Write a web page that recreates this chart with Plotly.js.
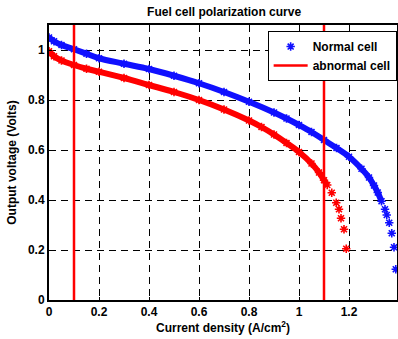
<!DOCTYPE html>
<html>
<head>
<meta charset="utf-8">
<script src="https://cdn.plot.ly/plotly-3.0.1.min.js"></script>
<style>html,body{margin:0;padding:0;background:#fff;}#chart{width:398px;height:339px;}</style>
</head>
<body>
<div id="chart"></div>
<script>
// Normal cell (blue asterisks)
const normalX = [0, 0.02, 0.05, 0.1, 0.15, 0.2, 0.3, 0.4, 0.5, 0.6, 0.7, 0.8, 0.9, 0.95, 1.0, 1.05, 1.1, 1.15, 1.2, 1.25, 1.28, 1.3, 1.315, 1.33, 1.344, 1.351, 1.361, 1.371, 1.38, 1.387];
const normalY = [1.05, 1.035, 1.02, 1.003, 0.985, 0.967, 0.945, 0.924, 0.897, 0.867, 0.832, 0.793, 0.75, 0.726, 0.70, 0.672, 0.64, 0.608, 0.573, 0.525, 0.49, 0.458, 0.43, 0.395, 0.363, 0.34, 0.309, 0.267, 0.211, 0.123];
const normalDenseCount = 24;
// Abnormal cell (red asterisks)
const abnormalX = [0, 0.02, 0.05, 0.1, 0.15, 0.2, 0.3, 0.4, 0.5, 0.6, 0.7, 0.8, 0.85, 0.9, 0.95, 1.0, 1.05, 1.08, 1.1, 1.113, 1.131, 1.149, 1.16, 1.168, 1.18, 1.189];
const abnormalY = [0.995, 0.975, 0.958, 0.94, 0.925, 0.913, 0.888, 0.86, 0.832, 0.80, 0.762, 0.718, 0.692, 0.662, 0.628, 0.592, 0.546, 0.51, 0.479, 0.46, 0.429, 0.389, 0.363, 0.327, 0.283, 0.205];
const abnormalDenseCount = 20;
// Red vertical limit lines
const limitX = [0.1, 1.1];
const xTicks = [0, 0.2, 0.4, 0.6, 0.8, 1, 1.2];
const xTickText = ['0', '0.2', '0.4', '0.6', '0.8', '1', '1.2'];
const yTicks = [0, 0.2, 0.4, 0.6, 0.8, 1];
const yTickText = ['0', '0.2', '0.4', '0.6', '0.8', '1'];

const Y_MAX = 1.1;
const lx = [], ly = [];
limitX.forEach((v, i) => { if (i) { lx.push(null); ly.push(null); } lx.push(v, v); ly.push(0, Y_MAX); });

const BLUE = '#1010ff', RED = '#ff0000';
const traces = [
  {x: normalX.slice(0, normalDenseCount), y: normalY.slice(0, normalDenseCount), mode: 'lines', line: {color: BLUE, width: 6, shape: 'spline'}, showlegend: false, hoverinfo: 'skip'},
  {x: abnormalX.slice(0, abnormalDenseCount), y: abnormalY.slice(0, abnormalDenseCount), mode: 'lines', line: {color: RED, width: 6, shape: 'spline'}, showlegend: false, hoverinfo: 'skip'},
  {x: normalX, y: normalY, mode: 'markers', name: 'Normal cell',
   marker: {symbol: 'asterisk-open', size: 7, color: BLUE, line: {color: BLUE, width: 1.6}}},
  {x: abnormalX, y: abnormalY, mode: 'markers', name: 'abnormal red', showlegend: false,
   marker: {symbol: 'asterisk-open', size: 7, color: RED, line: {color: RED, width: 1.6}}},
  {x: lx, y: ly, mode: 'lines', name: 'abnormal cell', line: {color: RED, width: 2.5}}
];

const FONT = 'Liberation Sans, Arial, sans-serif';
const layout = {
  width: 398, height: 339,
  margin: {l: 49, r: 1, t: 25, b: 39},
  paper_bgcolor: '#fff', plot_bgcolor: '#fff',
  font: {family: FONT, size: 12, color: '#000', weight: 'bold'},
  title: {text: 'Fuel cell polarization curve', font: {family: FONT, size: 12, weight: 'bold'}, x: 0.563, xanchor: 'center', y: 0.966, yanchor: 'middle'},
  xaxis: {range: [0, 1.392], tickvals: xTicks, ticktext: xTickText, ticks: 'inside', ticklen: 3, tickcolor: '#000',
    showline: true, linecolor: '#000', linewidth: 2, mirror: true,
    showgrid: true, gridcolor: '#000', gridwidth: 1, griddash: '7px,5px', zeroline: false,
    tickfont: {family: FONT, size: 12, weight: 'bold'},
    title: {text: 'Current density (A/cm<sup>2</sup>)', font: {family: FONT, size: 12, weight: 'bold'}, standoff: 3}},
  yaxis: {range: [0, Y_MAX], tickvals: yTicks, ticktext: yTickText, ticks: 'inside', ticklen: 3, tickcolor: '#000',
    showline: true, linecolor: '#000', linewidth: 2, mirror: true,
    showgrid: true, gridcolor: '#000', gridwidth: 1, griddash: '7px,5px', zeroline: false,
    tickfont: {family: FONT, size: 12, weight: 'bold'},
    title: {text: 'Output voltage (Volts)', font: {family: FONT, size: 12, weight: 'bold'}, standoff: 9}},
  legend: {x: 0.999, xanchor: 'right', y: 0.978, yanchor: 'top', bgcolor: '#fff', bordercolor: '#000', borderwidth: 1,
    font: {family: FONT, size: 12, weight: 'bold'}, tracegroupgap: 0, itemwidth: 34},
  showlegend: true
};
Plotly.newPlot('chart', traces, layout, {staticPlot: true, displayModeBar: false});
</script>
</body>
</html>
